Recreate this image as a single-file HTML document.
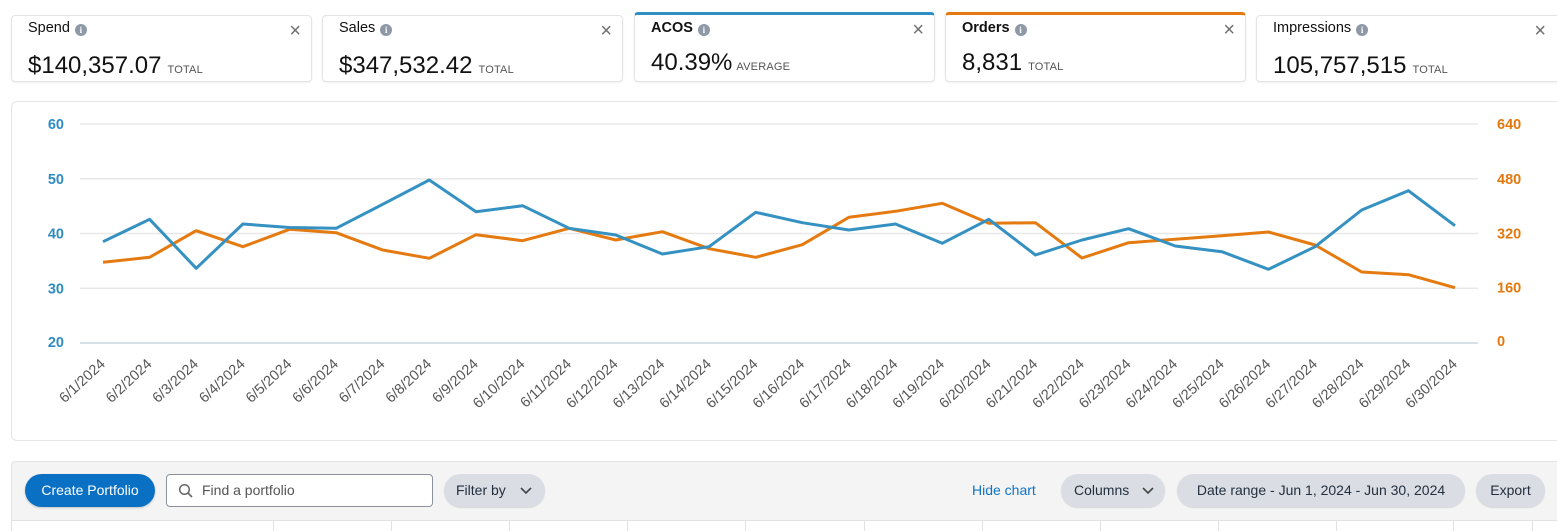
<!DOCTYPE html>
<html><head><meta charset="utf-8">
<style>
*{box-sizing:border-box;margin:0;padding:0}
html,body{width:1557px;height:531px;overflow:hidden;background:#fff;font-family:"Liberation Sans",sans-serif;color:#111}
.card{position:absolute;top:15px;height:67px;width:301px;background:#fff;border:1px solid #e4e4e4;border-radius:4px;box-shadow:0 1px 2px rgba(0,0,0,0.06)}
.card.sel{top:12px;height:70px;border-top:3px solid}
.lbl{position:absolute;left:16px;top:4px;font-size:14.5px;color:#111;white-space:nowrap}
.card.sel .lbl{top:5px;font-weight:bold}
.info{display:inline-block;width:12px;height:12px;border-radius:50%;background:#8e99a7;color:#fff;font-size:9px;font-weight:bold;text-align:center;line-height:12px;vertical-align:-1px;margin-left:5px;font-family:"Liberation Serif",serif}
.x{position:absolute;right:10px;top:4px;font-size:20px;color:#6f6f6f;line-height:22px}
.card.sel .x{top:4px}
.val{position:absolute;left:16px;top:36px;font-size:24px;color:#111;white-space:nowrap}
.card.sel .val{top:34px}
.val small{font-size:11px;color:#555;margin-left:6px;letter-spacing:0.2px}
.chart{position:absolute;left:11px;top:101px;width:1560px;height:340px;border:1px solid #e6e6e6;border-radius:6px;background:#fff}
svg.c{position:absolute;left:0;top:0}
.panel{position:absolute;left:11px;top:461px;width:1560px;height:70px;background:#f4f4f4;border:1px solid #e2e2e2;border-bottom:none;border-radius:4px 4px 0 0}
.pill{position:absolute;top:474px;height:33px;border-radius:17px;background:#dadee4;font-size:14px;color:#232f3e;line-height:33px;white-space:nowrap;box-shadow:0 1px 1px rgba(0,0,0,0.12)}
</style></head><body>

<div class="card" style="left:11px"><div class="lbl">Spend<span class="info">i</span></div><div class="x">×</div><div class="val">$140,357.07<small>TOTAL</small></div></div>
<div class="card" style="left:322px"><div class="lbl">Sales<span class="info">i</span></div><div class="x">×</div><div class="val">$347,532.42<small>TOTAL</small></div></div>
<div class="card sel" style="left:634px;border-top-color:#2f8fc2"><div class="lbl">ACOS<span class="info">i</span></div><div class="x">×</div><div class="val">40.39%<small style="margin-left:4px">AVERAGE</small></div></div>
<div class="card sel" style="left:945px;border-top-color:#e47911"><div class="lbl">Orders<span class="info">i</span></div><div class="x">×</div><div class="val">8,831<small>TOTAL</small></div></div>
<div class="card" style="left:1256px;width:320px"><div class="lbl">Impressions<span class="info">i</span></div><div class="x" style="right:29px">×</div><div class="val">105,757,515<small>TOTAL</small></div></div>

<div class="chart"></div>

<svg class="c" width="1557" height="531" viewBox="0 0 1557 531">
<g stroke="#e8e8e8" stroke-width="1.5">
<line x1="80" y1="124" x2="1478" y2="124"/>
<line x1="80" y1="178.75" x2="1478" y2="178.75"/>
<line x1="80" y1="233.5" x2="1478" y2="233.5"/>
<line x1="80" y1="288.25" x2="1478" y2="288.25"/>
</g>
<line x1="80" y1="343" x2="1478" y2="343" stroke="#ccd6e0" stroke-width="1.5"/>
<g font-family="Liberation Sans, sans-serif" font-size="14.5" font-weight="bold" fill="#2f8cc1" text-anchor="end">
<text x="64" y="129">60</text><text x="64" y="184">50</text><text x="64" y="238.5">40</text><text x="64" y="293.5">30</text><text x="64" y="347">20</text>
</g>
<g font-family="Liberation Sans, sans-serif" font-size="14.5" font-weight="bold" fill="#e3790e">
<text x="1497" y="129">640</text><text x="1497" y="184">480</text><text x="1497" y="238.5">320</text><text x="1497" y="292.5">160</text><text x="1497" y="346">0</text>
</g>
<polyline fill="none" stroke="#e47a10" stroke-width="3" stroke-linejoin="round" points="103,262.3 149.6,257.3 196.2,230.7 242.9,246.7 289.5,229.3 336.1,232.7 382.7,250 429.3,258.3 476,234.7 522.6,240.7 569.2,228.3 615.8,240 662.4,231.7 709.1,248.7 755.7,257.3 802.3,244.7 848.9,217.3 895.5,211.3 942.2,203.3 988.8,223.3 1035.4,222.7 1082,258 1128.6,242.7 1175.3,239.3 1221.9,235.7 1268.5,232 1315.1,245 1361.7,272 1408.4,274.7 1455,287.7"/>
<polyline fill="none" stroke="#3591c1" stroke-width="3" stroke-linejoin="round" points="103,241.7 149.6,219.3 196.2,268.3 242.9,224 289.5,227.5 336.1,228.3 382.7,204.3 429.3,180 476,211.7 522.6,205.7 569.2,228.3 615.8,235 662.4,254 709.1,246.7 755.7,212.3 802.3,222.7 848.9,230 895.5,224 942.2,243.3 988.8,219.3 1035.4,255 1082,240 1128.6,228.7 1175.3,246 1221.9,251.7 1268.5,269.3 1315.1,246.7 1361.7,210 1408.4,190.7 1455,225.7"/>
<g font-family="Liberation Sans, sans-serif" font-size="14.5" fill="#555" text-anchor="end">
<text transform="translate(106,365) rotate(-43)">6/1/2024</text>
<text transform="translate(152.6,365) rotate(-43)">6/2/2024</text>
<text transform="translate(199.2,365) rotate(-43)">6/3/2024</text>
<text transform="translate(245.9,365) rotate(-43)">6/4/2024</text>
<text transform="translate(292.5,365) rotate(-43)">6/5/2024</text>
<text transform="translate(339.1,365) rotate(-43)">6/6/2024</text>
<text transform="translate(385.7,365) rotate(-43)">6/7/2024</text>
<text transform="translate(432.3,365) rotate(-43)">6/8/2024</text>
<text transform="translate(479,365) rotate(-43)">6/9/2024</text>
<text transform="translate(525.6,365) rotate(-43)">6/10/2024</text>
<text transform="translate(572.2,365) rotate(-43)">6/11/2024</text>
<text transform="translate(618.8,365) rotate(-43)">6/12/2024</text>
<text transform="translate(665.4,365) rotate(-43)">6/13/2024</text>
<text transform="translate(712.1,365) rotate(-43)">6/14/2024</text>
<text transform="translate(758.7,365) rotate(-43)">6/15/2024</text>
<text transform="translate(805.3,365) rotate(-43)">6/16/2024</text>
<text transform="translate(851.9,365) rotate(-43)">6/17/2024</text>
<text transform="translate(898.5,365) rotate(-43)">6/18/2024</text>
<text transform="translate(945.2,365) rotate(-43)">6/19/2024</text>
<text transform="translate(991.8,365) rotate(-43)">6/20/2024</text>
<text transform="translate(1038.4,365) rotate(-43)">6/21/2024</text>
<text transform="translate(1085,365) rotate(-43)">6/22/2024</text>
<text transform="translate(1131.6,365) rotate(-43)">6/23/2024</text>
<text transform="translate(1178.3,365) rotate(-43)">6/24/2024</text>
<text transform="translate(1224.9,365) rotate(-43)">6/25/2024</text>
<text transform="translate(1271.5,365) rotate(-43)">6/26/2024</text>
<text transform="translate(1318.1,365) rotate(-43)">6/27/2024</text>
<text transform="translate(1364.7,365) rotate(-43)">6/28/2024</text>
<text transform="translate(1411.4,365) rotate(-43)">6/29/2024</text>
<text transform="translate(1458,365) rotate(-43)">6/30/2024</text>
</g>
</svg>

<div class="panel"></div>
<div style="position:absolute;left:12px;top:520px;width:1560px;height:11px;background:#fff;border-top:1px solid #e2e2e2"></div>
<svg class="c" width="1557" height="531">
<g stroke="#e2e2e2" stroke-width="1">
<line x1="273.5" y1="520" x2="273.5" y2="531"/><line x1="391.5" y1="520" x2="391.5" y2="531"/><line x1="509.5" y1="520" x2="509.5" y2="531"/><line x1="627.5" y1="520" x2="627.5" y2="531"/><line x1="745.5" y1="520" x2="745.5" y2="531"/><line x1="864.5" y1="520" x2="864.5" y2="531"/><line x1="982.5" y1="520" x2="982.5" y2="531"/><line x1="1100.5" y1="520" x2="1100.5" y2="531"/><line x1="1218.5" y1="520" x2="1218.5" y2="531"/><line x1="1336.5" y1="520" x2="1336.5" y2="531"/><line x1="1453.5" y1="520" x2="1453.5" y2="531"/><line x1="1532.5" y1="520" x2="1532.5" y2="531"/>
</g>
</svg>

<div style="position:absolute;left:25px;top:474px;width:130px;height:33px;border-radius:17px;background:#0a70c4;color:#fff;font-size:14px;line-height:33px;text-align:center;box-shadow:0 1px 2px rgba(0,0,0,0.2)">Create Portfolio</div>
<div style="position:absolute;left:166px;top:474px;width:267px;height:33px;border-radius:4px;background:#fff;border:1px solid #8a929c">
<svg width="16" height="16" style="position:absolute;left:11px;top:8px"><circle cx="6.5" cy="6.5" r="4.8" fill="none" stroke="#666" stroke-width="1.5"/><line x1="10" y1="10" x2="14" y2="14" stroke="#666" stroke-width="1.6"/></svg>
<span style="position:absolute;left:35px;top:0;line-height:31px;font-size:14px;color:#555">Find a portfolio</span></div>
<div class="pill" style="left:444px;width:101px"><span style="position:absolute;left:12px">Filter by</span><svg width="12" height="8" style="position:absolute;left:76px;top:13px"><polyline points="1,1 6,6 11,1" fill="none" stroke="#444" stroke-width="1.6"/></svg></div>
<div style="position:absolute;left:972px;top:474px;line-height:33px;font-size:14px;color:#0f74c5">Hide chart</div>
<div class="pill" style="left:1061px;width:104px"><span style="position:absolute;left:13px">Columns</span><svg width="12" height="8" style="position:absolute;left:81px;top:13px"><polyline points="1,1 6,6 11,1" fill="none" stroke="#444" stroke-width="1.6"/></svg></div>
<div class="pill" style="left:1177px;width:288px;text-align:center">Date range - Jun 1, 2024 - Jun 30, 2024</div>
<div class="pill" style="left:1476px;width:69px;text-align:center">Export</div>

</body></html>
